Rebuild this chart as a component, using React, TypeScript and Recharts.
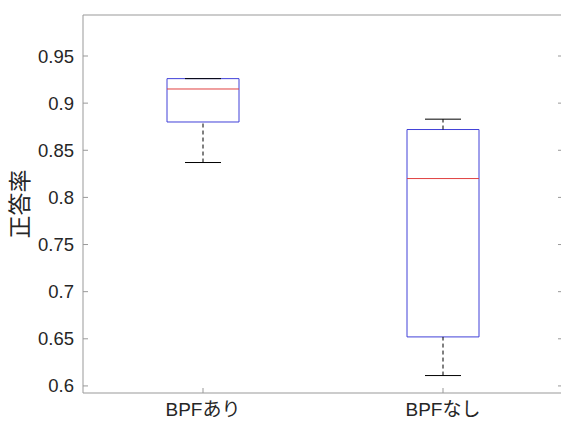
import { ComposedChart, XAxis, YAxis, Scatter, ReferenceArea, ReferenceLine } from 'recharts'

const categories = ['BPFあり', 'BPFなし']
const lowerWhisker = [0.837, 0.611]
const q1 = [0.88, 0.652]
const median = [0.915, 0.82]
const q3 = [0.926, 0.872]
const upperWhisker = [0.926, 0.883]
const yTicks = [0.6, 0.65, 0.7, 0.75, 0.8, 0.85, 0.9, 0.95]

const font = "'Liberation Sans', Arial, 'Noto Sans CJK JP', sans-serif"
const axisColor = '#999'
const boxHalf = 0.15
const capHalf = 0.075

const points = categories.map((c, i) => ({ x: i + 1, y: median[i], name: c }))

export default function App() {
  return (
    <div style={{ position: 'fixed', left: 0, top: 0, width: 561, height: 421, overflow: 'hidden', background: '#fff' }}>
      <ComposedChart width={600} height={421} margin={{ top: 0, right: 0, bottom: 0, left: 0 }} style={{ fontFamily: font }}>
        <XAxis
          type='number'
          dataKey='x'
          domain={[0.5, 2.5]}
          ticks={[1, 2]}
          tickFormatter={(v: number) => categories[v - 1]}
          height={28}
          tickSize={-5}
          tickMargin={15}
          stroke={axisColor}
          tick={{ fill: '#262626', fontSize: 19 }}
          allowDataOverflow
        />
        <XAxis
          xAxisId='t'
          orientation='top'
          type='number'
          domain={[0.5, 2.5]}
          ticks={[1, 2]}
          tickFormatter={() => ''}
          height={15}
          tickSize={-5}
          stroke={axisColor}
          allowDataOverflow
        />
        <YAxis
          type='number'
          dataKey='y'
          domain={[0.5925, 0.9935]}
          ticks={yTicks}
          width={83}
          tickSize={-5}
          tickMargin={14}
          stroke={axisColor}
          tick={{ fill: '#262626', fontSize: 18.5 }}
          allowDataOverflow
          label={{
            content: (p: any) => {
              const vb = p.viewBox
              const cx = vb.x + 20
              const cy = vb.y + vb.height / 2
              return (
                <text x={cx} y={cy} textAnchor='middle' dominantBaseline='central' fontSize={23} fill='#262626'
                  transform={`rotate(-90, ${cx}, ${cy})`}>
                  正答率
                </text>
              )
            }
          }}
        />
        <YAxis
          yAxisId='r'
          orientation='right'
          type='number'
          domain={[0.5925, 0.9935]}
          ticks={yTicks}
          width={37}
          tickSize={-5}
          tickFormatter={() => ''}
          stroke={axisColor}
          allowDataOverflow
        />
        <Scatter data={points} shape={() => <g />} isAnimationActive={false} />
        {categories.map((c, i) => {
          const x = i + 1
          return (
            <g key={c}>
              <ReferenceLine segment={[{ x, y: q3[i] }, { x, y: upperWhisker[i] }]} stroke='#000' strokeDasharray='4 3' />
              <ReferenceLine segment={[{ x, y: lowerWhisker[i] }, { x, y: q1[i] }]} stroke='#000' strokeDasharray='4 3' />
              <ReferenceLine segment={[{ x: x - capHalf, y: upperWhisker[i] }, { x: x + capHalf, y: upperWhisker[i] }]} stroke='#000' />
              <ReferenceLine segment={[{ x: x - capHalf, y: lowerWhisker[i] }, { x: x + capHalf, y: lowerWhisker[i] }]} stroke='#000' />
              <ReferenceArea x1={x - boxHalf} x2={x + boxHalf} y1={q1[i]} y2={q3[i]} fill='none' stroke='#4040d8' strokeWidth={1} fillOpacity={0} />
              <ReferenceLine segment={[{ x: x - boxHalf, y: median[i] }, { x: x + boxHalf, y: median[i] }]} stroke='#e04040' />
            </g>
          )
        })}
      </ComposedChart>
    </div>
  )
}
